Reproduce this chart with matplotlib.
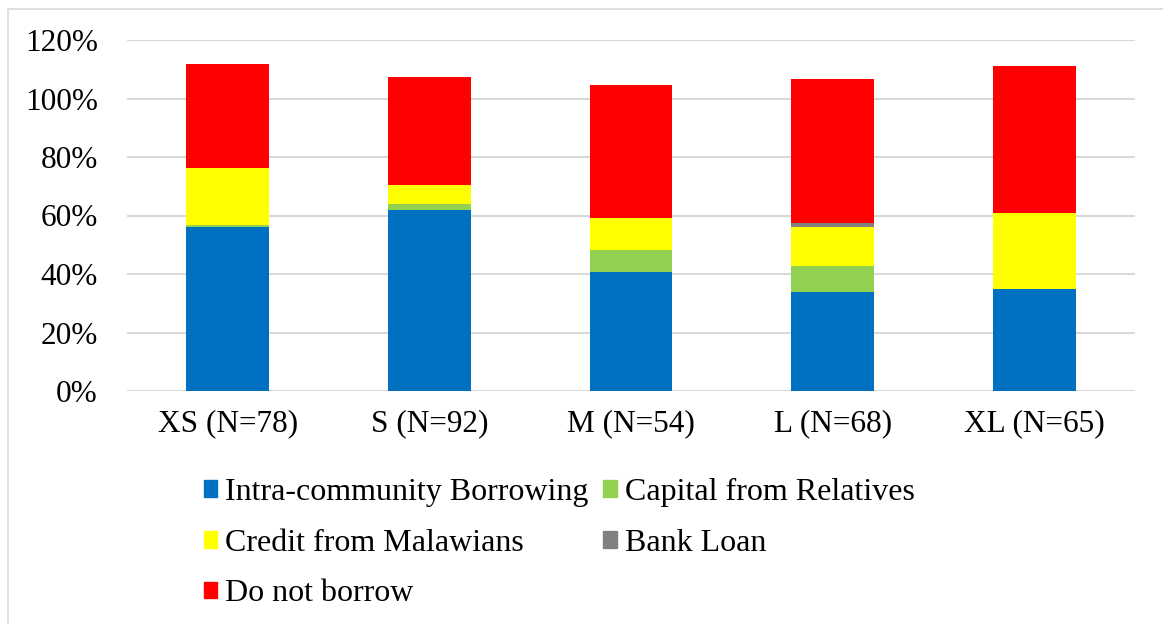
import matplotlib
matplotlib.use("Agg")
import matplotlib.pyplot as plt
import numpy as np
from matplotlib.patches import Patch, Rectangle

plt.rcParams['font.family'] = ['Liberation Serif', 'DejaVu Serif']

# data (percent of respondents per size group)
groups = ['XS (N=78)', 'S (N=92)', 'M (N=54)', 'L (N=68)', 'XL (N=65)']
intra = [55.9, 61.8, 40.7, 33.7, 34.9]
relatives = [1.0, 2.2, 7.4, 8.9, 0.0]
malawians = [19.3, 6.5, 11.2, 13.4, 26.0]
bank = [0.0, 0.0, 0.0, 1.5, 0.0]
no_borrow = [35.5, 36.7, 45.2, 49.2, 50.1]

series = [
    ('Intra-community Borrowing', intra, '#0070C0'),
    ('Capital from Relatives', relatives, '#92D050'),
    ('Credit from Malawians', malawians, '#FFFF00'),
    ('Bank Loan', bank, '#808080'),
    ('Do not borrow', no_borrow, '#FF0000'),
]

W, H = 1163, 624
fig = plt.figure(figsize=(W / 100, H / 100), dpi=100)
ax = fig.add_axes([127 / W, 1 - 391 / H, (1135 - 127) / W, (391 - 40) / H])

x = np.arange(len(groups))
bottom = np.zeros(len(groups))
for name, vals, col in series:
    vals = np.array(vals)
    ax.bar(x, vals, 0.41, bottom=bottom, color=col, label=name, zorder=3)
    bottom += vals

ax.set_xlim(-0.5, len(groups) - 0.5)
ax.set_ylim(0, 120)
ax.set_yticks(np.arange(0, 121, 20))
ax.set_yticklabels(['%d%%' % v for v in range(0, 121, 20)])
ax.set_xticks(x)
ax.set_xticklabels(groups)
ax.tick_params(axis='both', length=0, labelsize=22.5)
ax.tick_params(axis='y', pad=21)
ax.tick_params(axis='x', pad=13)
ax.grid(axis='y', color='#d9d9d9', linewidth=1.5, zorder=0)
ax.set_axisbelow(True)
for s in ax.spines.values():
    s.set_visible(False)

# legend: order so rows read Intra | Capital, Credit | Bank, Do not
handles = [Patch(color=c) for _, _, c in series]
labels = [n for n, _, _ in series]
order = [0, 2, 4, 1, 3]
fig.legend([handles[i] for i in order], [labels[i] for i in order],
           loc='upper left', bbox_to_anchor=(188 / W, 1 - 462 / H),
           ncol=2, frameon=False, fontsize=23, borderpad=0,
           handlelength=0.42, handleheight=0.42, handletextpad=0.25,
           columnspacing=0.45, labelspacing=0.68)

# chart area border
fig.patches.append(Rectangle((8 / W, -0.1), 1.1, 1 - 9 / H + 0.1,
                             transform=fig.transFigure, fill=False,
                             edgecolor='#d9d9d9', linewidth=1.2))

fig.savefig('out.png', dpi=100)
